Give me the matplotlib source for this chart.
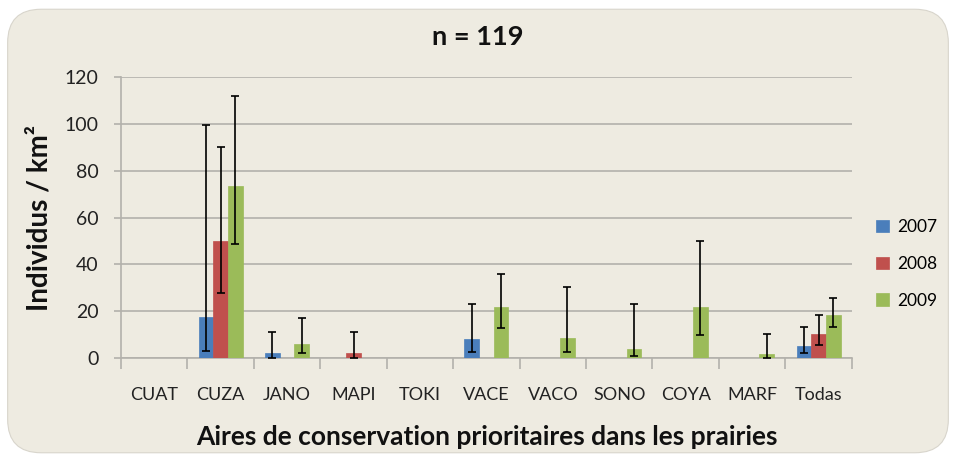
import matplotlib.pyplot as plt
import numpy as np
from matplotlib.patches import FancyBboxPatch

# ---------------------------------------------------------------------------
# Data
# ---------------------------------------------------------------------------
sites = ["CUAT", "CUZA", "JANO", "MAPI", "TOKI", "VACE", "VACO", "SONO",
         "COYA", "MARF", "Todas"]
years = ["2007", "2008", "2009"]

vals_2007 = [0, 17.6, 2.0, 0, 0, 8.0, 0, 0, 0, 0, 5.0]
low_2007 = [0, 3.1, 0.0, 0, 0, 2.7, 0, 0, 0, 0, 2.0]
high_2007 = [0, 99.5, 11.1, 0, 0, 23.0, 0, 0, 0, 0, 13.1]

vals_2008 = [0, 49.8, 0, 2.0, 0, 0, 0, 0, 0, 0, 10.1]
low_2008 = [0, 27.6, 0, 0.0, 0, 0, 0, 0, 0, 0, 5.5]
high_2008 = [0, 90.0, 0, 11.1, 0, 0, 0, 0, 0, 0, 18.2]

vals_2009 = [0, 73.4, 5.8, 0, 0, 21.6, 8.7, 4.0, 21.9, 1.7, 18.4]
low_2009 = [0, 48.8, 2.0, 0, 0, 12.9, 2.4, 0.9, 9.8, 0.0, 13.4]
high_2009 = [0, 111.9, 17.0, 0, 0, 36.0, 30.5, 23.0, 50.0, 10.1, 25.7]

colors = ["#4A7EBB", "#C0504D", "#9BBB59"]
bg = "#EEEBE1"

plt.rcParams["font.family"] = ["Lato", "DejaVu Sans"]

fig = plt.figure(figsize=(9.56, 4.62), dpi=100)
fig.patch.set_facecolor("white")
box = FancyBboxPatch((0.008, 0.02), 0.984, 0.96,
                     boxstyle="round,pad=0,rounding_size=0.035",
                     transform=fig.transFigure, facecolor=bg,
                     edgecolor="#D8D5CC", linewidth=0.8, mutation_aspect=2.07,
                     zorder=-10)
fig.patches.append(box)

ax = fig.add_axes([0.1266, 0.225, 0.7644, 0.608])
ax.set_facecolor(bg)

x = np.arange(len(sites))
w = 0.22
series = [
    (vals_2007, low_2007, high_2007),
    (vals_2008, low_2008, high_2008),
    (vals_2009, low_2009, high_2009),
]
for i, (v, lo, hi) in enumerate(series):
    v = np.array(v, dtype=float)
    lo = np.array(lo, dtype=float)
    hi = np.array(hi, dtype=float)
    pos = x + (i - 1) * w
    ax.bar(pos, v, width=w, color=colors[i], label=years[i], zorder=3,
           edgecolor=colors[i], linewidth=0.5)
    has = v > 0
    ax.errorbar(pos[has], v[has], yerr=[v[has] - lo[has], hi[has] - v[has]],
                fmt="none", ecolor="black", elinewidth=1.2, capsize=3,
                capthick=1.2, zorder=4)

ax.set_xlim(-0.5, len(sites) - 0.5)
ax.set_ylim(0, 120)
ax.set_yticks(np.arange(0, 121, 20))
ax.yaxis.grid(True, color="#B3B1AB", linewidth=1.2, zorder=0)
ax.set_axisbelow(True)

ax.set_xticks(x)
ax.set_xticklabels(sites, fontsize=13, color="#222222")
ax.set_xticks(np.arange(-0.5, len(sites), 1), minor=True)
ax.tick_params(axis="x", which="major", length=0, pad=21)
ax.tick_params(axis="x", which="minor", length=8, color="#B3B1AB", width=1.2)
ax.tick_params(axis="y", length=5, color="#B3B1AB", width=1.2,
               labelsize=14, labelcolor="#222222", pad=11)

for s in ["top", "right"]:
    ax.spines[s].set_visible(False)
for s in ["left", "bottom"]:
    ax.spines[s].set_color("#B3B1AB")
    ax.spines[s].set_linewidth(1.2)

ax.set_xlabel("Aires de conservation prioritaires dans les prairies",
              fontsize=19, fontweight="bold", labelpad=16, color="#111111")
ax.set_ylabel("Individus / km²", fontsize=20, fontweight="bold",
              labelpad=9, color="#111111")
fig.text(0.5, 0.92, "n = 119", ha="center", va="center", fontsize=19.5,
         fontweight="bold", color="#111111")

leg = ax.legend(loc="center left", bbox_to_anchor=(1.012, 0.335), frameon=False,
                fontsize=12.5, handlelength=0.75, handleheight=0.75,
                labelspacing=1.2, handletextpad=0.45)

fig.savefig("out.png", dpi=100, facecolor="white")
